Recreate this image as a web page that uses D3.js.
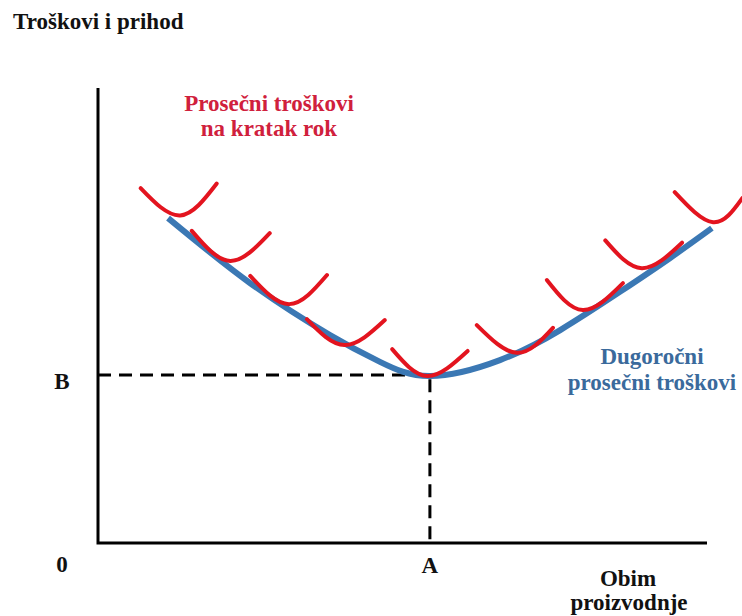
<!DOCTYPE html>
<html>
<head>
<meta charset="utf-8">
<script src="https://cdn.jsdelivr.net/npm/d3@7"></script>
<style>
  body { margin: 0; background: #fff; }
</style>
</head>
<body>
<svg id="chart"></svg>
<script>
// long run average cost (blue)
var lracX = [11.5, 25.0, 38.1, 46.3, 54.5, 66.0, 75.9, 85.7, 93.9, 100.8];
var lracY = [71.4, 57.1, 45.7, 39.8, 36.7, 40.2, 46.8, 55.2, 62.6, 69.2];

// short run average cost curves: left end, bottom, right end of each U
var sracLeftX = [7.0, 15.4, 25.0, 34.3, 48.3, 62.2, 73.7, 83.3, 94.7];
var sracLeftY = [78.0, 68.6, 58.7, 49.2, 42.6, 47.9, 57.8, 66.5, 77.1];
var sracMidX = [13.5, 21.7, 31.4, 40.5, 54.1, 68.8, 79.6, 89.3, 101.0];
var sracMidY = [72.0, 62.0, 52.5, 43.5, 36.7, 41.8, 51.2, 60.4, 70.5];
var sracRightX = [19.5, 28.2, 37.6, 47.1, 60.7, 74.7, 86.2, 95.9, 105.8];
var sracRightY = [79.0, 68.1, 58.9, 49.0, 42.2, 47.3, 57.1, 66.0, 75.8];

// the A / B point
var pointA = 54.5;
var pointB = 36.9;

function drawChart() {
  var chart = d3.select('#chart')
    .attr('width', 742)
    .attr('height', 616);

  var x = d3.scaleLinear().domain([0, 100]).range([98, 707]);
  var y = d3.scaleLinear().domain([0, 100]).range([543, 88]);

  // dashed guides
  chart.append('path')
    .attr('d', d3.line()([[x(0), y(pointB)], [x(pointA), y(pointB)], [x(pointA), y(0)]]))
    .attr('fill', 'none')
    .attr('stroke', '#000')
    .attr('stroke-width', 3)
    .attr('stroke-dasharray', '13,8');

  // axes
  chart.append('path')
    .attr('d', d3.line()([[x(0), y(100)], [x(0), y(0)], [x(100), y(0)]]))
    .attr('fill', 'none')
    .attr('stroke', '#000')
    .attr('stroke-width', 3);

  var line = d3.line()
    .x(d => x(d[0]))
    .y(d => y(d[1]))
    .curve(d3.curveNatural);

  // blue lrac
  var lrac = lracX.map((v, i) => [v, lracY[i]]);
  chart.append('path')
    .attr('d', line(lrac))
    .attr('fill', 'none')
    .attr('stroke', '#3b78b4')
    .attr('stroke-width', 6)
    .attr('stroke-linecap', 'butt');

  // red srac curves
  var sracs = sracMidX.map((v, i) => [
    [sracLeftX[i], sracLeftY[i]],
    [v, sracMidY[i]],
    [sracRightX[i], sracRightY[i]]
  ]);
  chart.selectAll('path.srac')
    .data(sracs).enter()
    .append('path')
    .classed('srac', true)
    .attr('d', d => line(d))
    .attr('fill', 'none')
    .attr('stroke', '#e3141f')
    .attr('stroke-width', 4)
    .attr('stroke-linecap', 'round');

  // labels
  var labels = [
    { t: 'Troškovi i prihod', x: 13, y: 29, a: 'start', c: '#111' },
    { t: 'Prosečni troškovi', x: 269, y: 111, a: 'middle', c: '#d0203c' },
    { t: 'na kratak rok', x: 269, y: 136, a: 'middle', c: '#d0203c' },
    { t: 'Dugoročni', x: 652, y: 364, a: 'middle', c: '#3a6a9c' },
    { t: 'prosečni troškovi', x: 652, y: 390, a: 'middle', c: '#3a6a9c' },
    { t: 'B', x: 62, y: 389, a: 'middle', c: '#111' },
    { t: '0', x: 62, y: 572, a: 'middle', c: '#111' },
    { t: 'A', x: x(pointA), y: 573, a: 'middle', c: '#111' },
    { t: 'Obim', x: 628, y: 586, a: 'middle', c: '#111' },
    { t: 'proizvodnje', x: 629, y: 610, a: 'middle', c: '#111' }
  ];
  chart.selectAll('text')
    .data(labels).enter()
    .append('text')
    .attr('x', d => d.x)
    .attr('y', d => d.y)
    .attr('text-anchor', d => d.a)
    .attr('fill', d => d.c)
    .attr('font-family', "'Liberation Serif', 'Times New Roman', serif")
    .attr('font-weight', 'bold')
    .attr('font-size', '23px')
    .text(d => d.t);
}

drawChart();
</script>
</body>
</html>
